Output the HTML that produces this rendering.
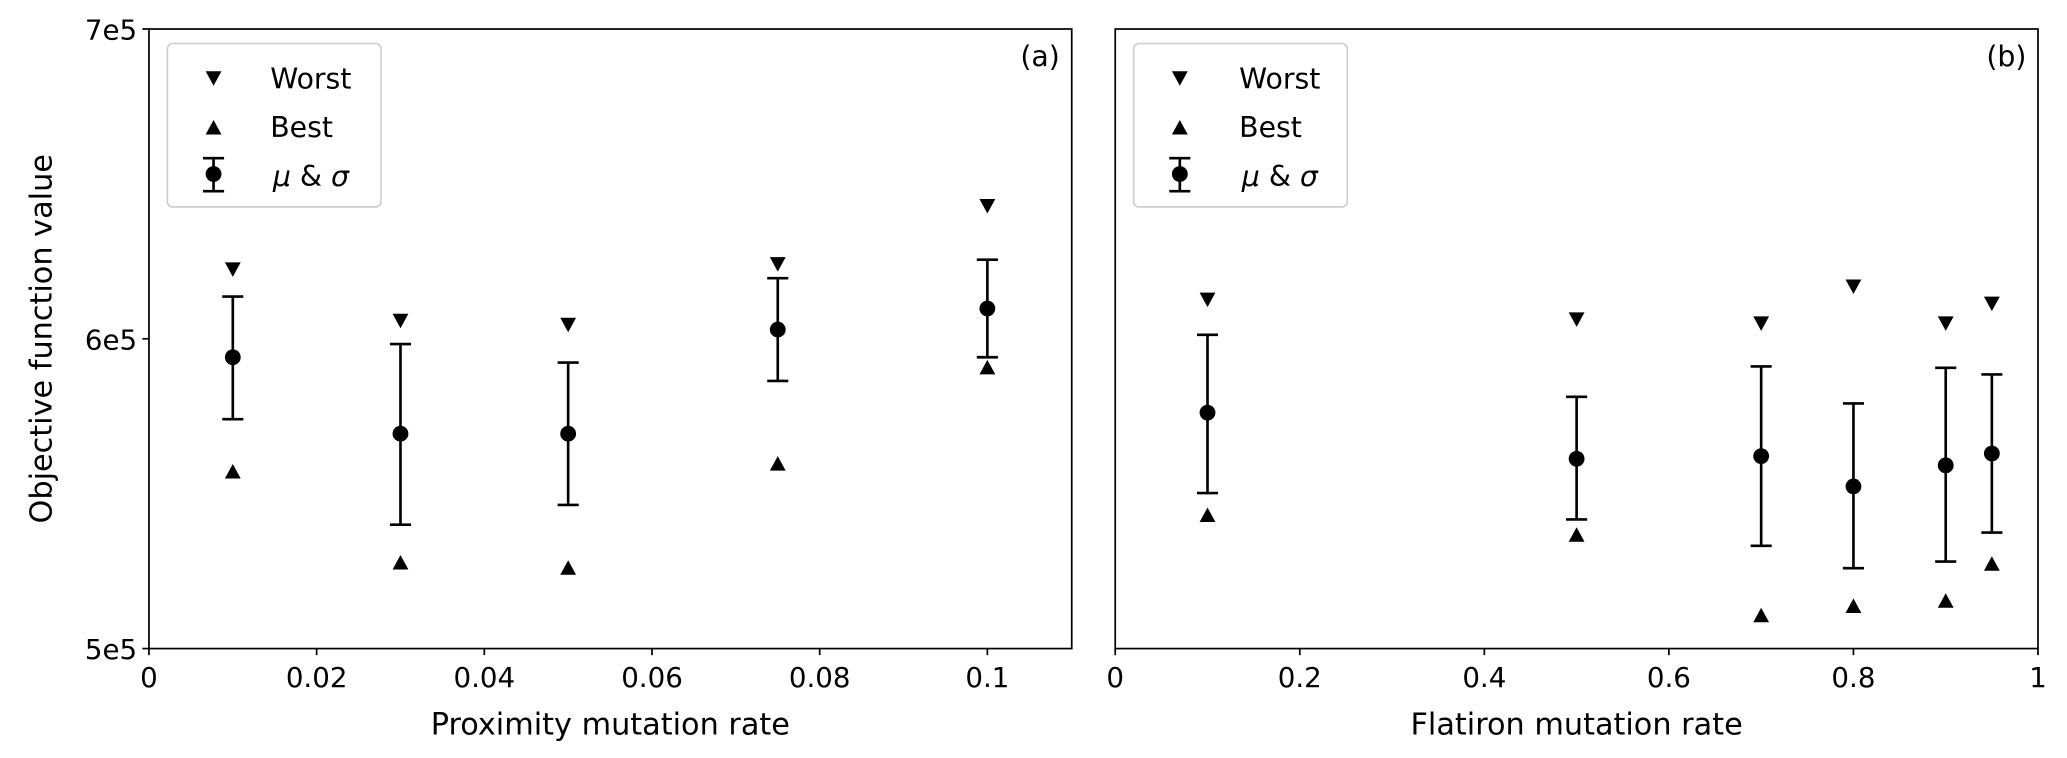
<!DOCTYPE html>
<html><head><style>html,body{margin:0;padding:0;background:#fff}svg{display:block}</style></head>
<body>
<svg width="2067" height="758" viewBox="0 0 1568 575" xmlns="http://www.w3.org/2000/svg" font-family="DejaVu Sans, Liberation Sans, sans-serif">
<rect width="1568" height="575" fill="#fff"/>
<g stroke="#000" stroke-width="1.3" fill="none">
<rect x="113" y="22" width="700" height="470"/>
<rect x="846" y="22" width="700" height="470"/>
</g>
<g stroke="#000" stroke-width="1.3">
<line x1="108" y1="22" x2="113" y2="22"/><line x1="108" y1="257" x2="113" y2="257"/><line x1="108" y1="492" x2="113" y2="492"/>
<line x1="113" y1="492" x2="113" y2="497"/><line x1="240.2" y1="492" x2="240.2" y2="497"/><line x1="367.4" y1="492" x2="367.4" y2="497"/><line x1="494.6" y1="492" x2="494.6" y2="497"/><line x1="621.8" y1="492" x2="621.8" y2="497"/><line x1="749" y1="492" x2="749" y2="497"/>
<line x1="846" y1="492" x2="846" y2="497"/><line x1="986" y1="492" x2="986" y2="497"/><line x1="1126" y1="492" x2="1126" y2="497"/><line x1="1266" y1="492" x2="1266" y2="497"/><line x1="1406" y1="492" x2="1406" y2="497"/><line x1="1546" y1="492" x2="1546" y2="497"/>
</g>
<g font-size="21" fill="#000" text-anchor="end">
<text x="104" y="30">7e5</text><text x="104" y="265">6e5</text><text x="104" y="500">5e5</text>
</g>
<g font-size="21" fill="#000" text-anchor="middle">
<text x="113" y="521">0</text><text x="240.2" y="521">0.02</text><text x="367.4" y="521">0.04</text><text x="494.6" y="521">0.06</text><text x="621.8" y="521">0.08</text><text x="749" y="521">0.1</text>
<text x="846" y="521">0</text><text x="986" y="521">0.2</text><text x="1126" y="521">0.4</text><text x="1266" y="521">0.6</text><text x="1406" y="521">0.8</text><text x="1546" y="521">1</text>
<text x="463" y="557" font-size="23">Proximity mutation rate</text>
<text x="1196" y="557" font-size="23">Flatiron mutation rate</text>
<text x="789" y="50" font-size="21.5">(a)</text>
<text x="1522" y="50" font-size="21.5">(b)</text>
<text transform="translate(39,257) rotate(-90)" font-size="23">Objective function value</text>
</g>
<rect x="127" y="33" width="162" height="124" rx="4" fill="#fff" stroke="#ccc" stroke-width="1.2"/>
<rect x="860" y="33" width="162" height="124" rx="4" fill="#fff" stroke="#ccc" stroke-width="1.2"/>
<g font-size="21.5" fill="#000">
<text x="205" y="67">Worst</text><text x="205" y="104">Best</text><text x="207" y="141" font-style="italic">μ <tspan font-style="normal">&amp;</tspan> σ</text>
<text x="940" y="67">Worst</text><text x="940" y="104">Best</text><text x="942" y="141" font-style="italic">μ <tspan font-style="normal">&amp;</tspan> σ</text>
</g>
<g fill="#000">
<path d="M156,54 L168,54 L162,65 Z"/><path d="M156,102 L168,102 L162,91 Z"/>
<path d="M889,54 L901,54 L895,65 Z"/><path d="M889,102 L901,102 L895,91 Z"/>
<circle cx="162" cy="132" r="6"/><circle cx="895" cy="132" r="6"/>
</g>
<g stroke="#000" stroke-width="2"><line x1="162" y1="120" x2="162" y2="145"/><line x1="154" y1="120" x2="170" y2="120"/><line x1="154" y1="145" x2="170" y2="145"/>
<line x1="895" y1="120" x2="895" y2="145"/><line x1="887" y1="120" x2="903" y2="120"/><line x1="887" y1="145" x2="903" y2="145"/></g>

<g stroke="#000" stroke-width="2">
<line x1="176.6" y1="225" x2="176.6" y2="318"/><line x1="168.6" y1="225" x2="184.6" y2="225"/><line x1="168.6" y1="318" x2="184.6" y2="318"/>
<line x1="303.8" y1="261" x2="303.8" y2="398"/><line x1="295.8" y1="261" x2="311.8" y2="261"/><line x1="295.8" y1="398" x2="311.8" y2="398"/>
<line x1="431" y1="275" x2="431" y2="383"/><line x1="423" y1="275" x2="439" y2="275"/><line x1="423" y1="383" x2="439" y2="383"/>
<line x1="590" y1="211" x2="590" y2="289"/><line x1="582" y1="211" x2="598" y2="211"/><line x1="582" y1="289" x2="598" y2="289"/>
<line x1="749" y1="197" x2="749" y2="271"/><line x1="741" y1="197" x2="757" y2="197"/><line x1="741" y1="271" x2="757" y2="271"/>
<line x1="916" y1="254" x2="916" y2="374"/><line x1="908" y1="254" x2="924" y2="254"/><line x1="908" y1="374" x2="924" y2="374"/>
<line x1="1196" y1="301" x2="1196" y2="394"/><line x1="1188" y1="301" x2="1204" y2="301"/><line x1="1188" y1="394" x2="1204" y2="394"/>
<line x1="1336" y1="278" x2="1336" y2="414"/><line x1="1328" y1="278" x2="1344" y2="278"/><line x1="1328" y1="414" x2="1344" y2="414"/>
<line x1="1406" y1="306" x2="1406" y2="431"/><line x1="1398" y1="306" x2="1414" y2="306"/><line x1="1398" y1="431" x2="1414" y2="431"/>
<line x1="1476" y1="279" x2="1476" y2="426"/><line x1="1468" y1="279" x2="1484" y2="279"/><line x1="1468" y1="426" x2="1484" y2="426"/>
<line x1="1511" y1="284" x2="1511" y2="404"/><line x1="1503" y1="284" x2="1519" y2="284"/><line x1="1503" y1="404" x2="1519" y2="404"/>
</g>
<g fill="#000">
<circle cx="176.6" cy="271" r="6"/><circle cx="303.8" cy="329" r="6"/><circle cx="431" cy="329" r="6"/><circle cx="590" cy="250" r="6"/><circle cx="749" cy="234" r="6"/>
<circle cx="916" cy="313" r="6"/><circle cx="1196" cy="348" r="6"/><circle cx="1336" cy="346" r="6"/><circle cx="1406" cy="369" r="6"/><circle cx="1476" cy="353" r="6"/><circle cx="1511" cy="344" r="6"/>
<path d="M170.6,199 L182.6,199 L176.6,210 Z"/>
<path d="M297.8,238 L309.8,238 L303.8,249 Z"/>
<path d="M425,241 L437,241 L431,252 Z"/>
<path d="M584,195 L596,195 L590,206 Z"/>
<path d="M743,151 L755,151 L749,162 Z"/>
<path d="M910,222 L922,222 L916,233 Z"/>
<path d="M1190,237 L1202,237 L1196,248 Z"/>
<path d="M1330,240 L1342,240 L1336,251 Z"/>
<path d="M1400,212 L1412,212 L1406,223 Z"/>
<path d="M1470,240 L1482,240 L1476,251 Z"/>
<path d="M1505,225 L1517,225 L1511,236 Z"/>
<path d="M170.6,363 L182.6,363 L176.6,352 Z"/>
<path d="M297.8,432 L309.8,432 L303.8,421 Z"/>
<path d="M425,436 L437,436 L431,425 Z"/>
<path d="M584,357 L596,357 L590,346 Z"/>
<path d="M743,284 L755,284 L749,273 Z"/>
<path d="M910,396 L922,396 L916,385 Z"/>
<path d="M1190,411 L1202,411 L1196,400 Z"/>
<path d="M1330,472 L1342,472 L1336,461 Z"/>
<path d="M1400,465 L1412,465 L1406,454 Z"/>
<path d="M1470,461 L1482,461 L1476,450 Z"/>
<path d="M1505,433 L1517,433 L1511,422 Z"/>
</g>
</svg>
</body></html>
